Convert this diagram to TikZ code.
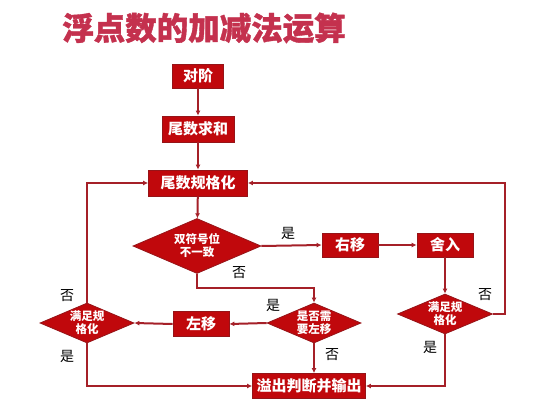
\documentclass[tikz,border=0pt]{standalone}
\usepackage{fontspec}
\usepackage{xcolor}
\usepackage{tikz}
\usetikzlibrary{arrows.meta,calc,positioning,shapes.geometric}
\newfontfamily\hei{Noto Sans CJK SC}
\newfontfamily\heavy{Noto Sans CJK SC}[BoldFeatures={FakeBold=1.2}]
\definecolor{titlered}{RGB}{196,49,78}
\definecolor{boxred}{RGB}{192,8,12}
\definecolor{boxedge}{RGB}{150,20,24}
\definecolor{linered}{RGB}{165,32,40}

\tikzset{
	stepbox/.style={rectangle,fill=boxred,draw=boxedge,line width=0.8pt,text=white,
		font=\hei\bfseries\fontsize{15}{16}\selectfont,inner sep=0pt},
	choice/.style={diamond,fill=boxred,draw=boxedge,line width=0.8pt,text=white,
		font=\hei\bfseries\fontsize{11.5}{13}\selectfont,align=center,inner sep=-6pt,aspect=2.3},
	flow/.style={draw=linered,line width=2pt,-{Latex[length=5pt,width=5pt]}},
	yesno/.style={font=\hei\fontsize{14}{15}\selectfont,text=black}
}

\begin{document}
\begin{tikzpicture}[x=1pt,y=-1pt]
		\useasboundingbox[fill=white] (0,0) rectangle (533,417);
		\node[font=\heavy\bfseries\fontsize{31.5}{34}\selectfont,text=titlered] (title) at (204,28) {浮点数的加减法运算};
		% main column
		\node[stepbox,minimum width=51pt,minimum height=24pt] (duijie) at (198,76) {对阶};
		\node[stepbox,minimum width=72pt,minimum height=26pt] (qiuhe) at (198,129) {尾数求和};
		\node[stepbox,minimum width=99pt,minimum height=26pt] (guige) at (198,183) {尾数规格化};
		\node[choice,minimum width=128pt,minimum height=55pt] (fuhao) at (197,246) {双符号位\\不一致};
		% right branch
		\node[stepbox,minimum width=56pt,minimum height=24pt] (youyi) at (350,245) {右移};
		\node[stepbox,minimum width=56pt,minimum height=24pt] (sheru) at (445,245) {舍入};
		\node[choice,minimum width=95pt,minimum height=40pt] (rguige) at (445,314) {满足规\\格化};
		% left branch
		\node[choice,minimum width=94pt,minimum height=40pt] (zuoyiq) at (314,323) {是否需\\要左移};
		\node[stepbox,minimum width=56pt,minimum height=25pt] (zuoyi) at (201,324) {左移};
		\node[choice,minimum width=94pt,minimum height=40pt] (lguige) at (87,323) {满足规\\格化};
		\node[stepbox,minimum width=113pt,minimum height=25pt] (shuchu) at (309,386) {溢出判断并输出};
		\coordinate (rtop) at (505,183);
		\coordinate (fz) at (197,288);

		\draw[flow] (duijie) -- (qiuhe);
		\draw[flow] (qiuhe) -- (guige);
		\draw[flow] (guige) -- (fuhao);
		\draw[flow] (fuhao.east) -- (youyi.west);
		\draw[flow] (youyi) -- (sheru);
		\draw[flow] (sheru) -- (rguige.north);
		\draw[flow] (rguige.east) -| (rtop) -- (guige.east);
		\draw[flow] (rguige.south) |- (shuchu.east);
		\draw[flow] (fuhao.south) -- (fz) -| (zuoyiq.north);
		\draw[flow] (zuoyiq.west) -- (zuoyi.east);
		\draw[flow] (zuoyi.west) -- (lguige.east);
		\draw[flow] (zuoyiq.south) -- (zuoyiq.south |- shuchu.north);
		\draw[flow] (lguige.north) |- (guige.west);
		\draw[flow] (lguige.south) |- (shuchu.west);

		\node[yesno] (l1) at (288,233) {是};
		\node[yesno] (l2) at (239,273) {否};
		\node[yesno] (l3) at (273,305) {是};
		\node[yesno] (l4) at (332,355) {否};
		\node[yesno] (l5) at (67,296) {否};
		\node[yesno] (l6) at (67,356) {是};
		\node[yesno] (l7) at (485,295) {否};
		\node[yesno] (l8) at (430,347) {是};
		\end{tikzpicture}
\end{document}
